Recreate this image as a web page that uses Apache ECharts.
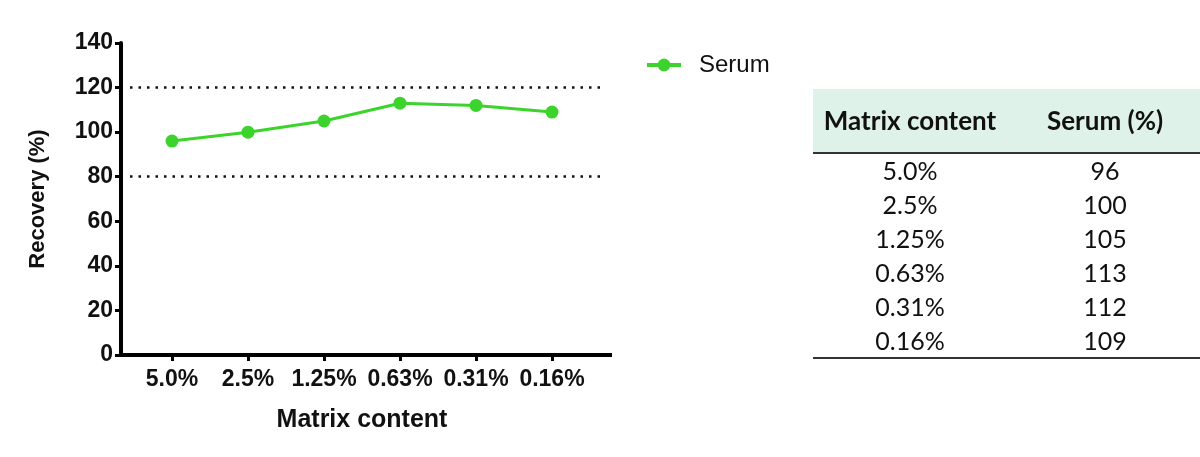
<!DOCTYPE html>
<html>
<head>
<meta charset="utf-8">
<script src="https://cdn.jsdelivr.net/npm/echarts@6/dist/echarts.min.js"></script>
<style>
  html, body { margin: 0; padding: 0; background: #fff; }
  #chart { width: 1200px; height: 457px; }
</style>
</head>
<body>
<div id="chart"></div>
<script>
// chart data
var categories = ["5.0%", "2.5%", "1.25%", "0.63%", "0.31%", "0.16%"];
var serum = [96, 100, 105, 113, 112, 109];
var limits = [120, 80];
var tableHeader = ["Matrix content", "Serum (%)"];

var green = "#3cd42c";
var axisFont = "'Liberation Sans', Arial, sans-serif";
var tableFont = "Lato, 'Open Sans', sans-serif";

// table on the right, drawn as graphic elements from the arrays above
function buildTable() {
  var left = 813, right = 1200;
  var colX = [910, 1105];
  var headTop = 89, headBottom = 153;
  var rowY0 = 172, rowStep = 34;
  var els = [];
  els.push({
    type: "rect", silent: true,
    shape: { x: left, y: headTop, width: right - left, height: headBottom - headTop },
    style: { fill: "#dff2ea" }
  });
  els.push({
    type: "line", silent: true,
    shape: { x1: left, y1: headBottom, x2: right, y2: headBottom },
    style: { stroke: "#333", lineWidth: 2 }
  });
  tableHeader.forEach(function (h, i) {
    els.push({
      type: "text", silent: true, x: colX[i], y: (headTop + headBottom) / 2 + 1,
      style: { text: h, font: "bold 26px " + tableFont, fill: "#111", align: "center", verticalAlign: "middle" }
    });
  });
  categories.forEach(function (c, i) {
    var y = rowY0 + i * rowStep;
    els.push({
      type: "text", silent: true, x: colX[0], y: y,
      style: { text: c, font: "25px " + tableFont, fill: "#111", align: "center", verticalAlign: "middle" }
    });
    els.push({
      type: "text", silent: true, x: colX[1], y: y,
      style: { text: String(serum[i]), font: "25px " + tableFont, fill: "#111", align: "center", verticalAlign: "middle" }
    });
  });
  var bottom = rowY0 + (categories.length - 1) * rowStep + 16;
  els.push({
    type: "line", silent: true,
    shape: { x1: left, y1: bottom, x2: right, y2: bottom },
    style: { stroke: "#333", lineWidth: 2 }
  });
  return els;
}

var chart = echarts.init(document.getElementById("chart"));

var option = {
  animation: false,
  backgroundColor: "#fff",
  textStyle: { fontFamily: axisFont },
  grid: { left: 134, right: 610, top: 43, bottom: 102, containLabel: false },
  legend: {
    data: ["Serum"],
    left: 640, top: 48,
    itemWidth: 34, itemHeight: 16,
    lineStyle: { width: 4 },
    textStyle: { fontSize: 24, color: "#111", fontFamily: axisFont, padding: [0, 0, 0, 13] }
  },
  xAxis: {
    type: "category",
    data: categories,
    boundaryGap: true,
    name: "Matrix content",
    nameLocation: "middle",
    nameGap: 53,
    nameTextStyle: { fontSize: 25, fontWeight: "bold", color: "#111" },
    axisLine: { show: false },
    axisTick: { show: true, alignWithLabel: true, interval: 0, length: 6, lineStyle: { color: "#000", width: 3 } },
    axisLabel: { interval: 0, fontSize: 23, fontWeight: "bold", color: "#111", margin: 13 },
    splitLine: { show: false }
  },
  yAxis: {
    type: "value",
    min: 0, max: 140, interval: 20,
    offset: 13,
    name: "Recovery (%)",
    nameLocation: "middle",
    nameRotate: 90,
    nameGap: 72,
    nameTextStyle: { fontSize: 22, fontWeight: "bold", color: "#111" },
    axisLine: { show: true, lineStyle: { color: "#000", width: 4 } },
    axisTick: { show: true, length: 6, lineStyle: { color: "#000", width: 3 } },
    axisLabel: { fontSize: 23, fontWeight: "bold", color: "#111", margin: 8 },
    splitLine: { show: false }
  },
  series: [{
    name: "Serum",
    type: "line",
    data: serum,
    color: green,
    symbol: "circle",
    symbolSize: 13,
    lineStyle: { width: 3, color: green },
    itemStyle: { color: green },
    markLine: {
      silent: true,
      symbol: "none",
      label: { show: false },
      lineStyle: { color: "#111", width: 2.5, type: [2.5, 6], cap: "butt" },
      data: limits.map(function (v) {
        return [{ yAxis: v, x: 130 }, { yAxis: v, x: 602 }];
      })
    }
  }]
};

chart.setOption(option);

// bottom axis line spans from the y axis to past the last category
var y0 = chart.convertToPixel({ yAxisIndex: 0 }, 0);
var axisEls = [{
  type: "line", silent: true,
  shape: { x1: 119, y1: y0, x2: 612, y2: y0 },
  style: { stroke: "#000", lineWidth: 4 }
}];

chart.setOption({ graphic: { elements: buildTable().concat(axisEls) } });
</script>
</body>
</html>
